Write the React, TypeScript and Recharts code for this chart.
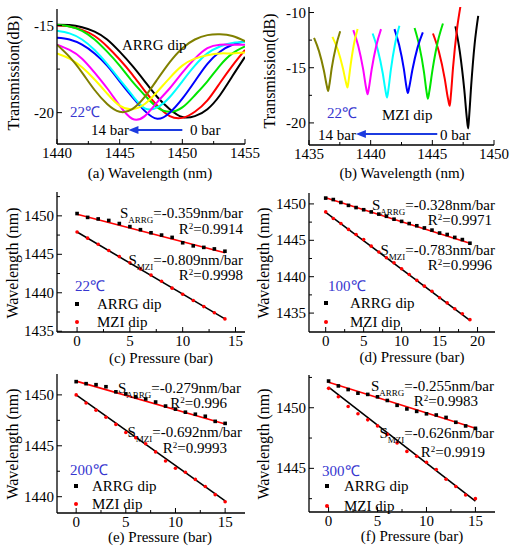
import React from "react";
import { ComposedChart, Line, LineChart, ReferenceLine, Scatter, XAxis, YAxis } from "recharts";

const FONT = "'Liberation Serif', 'Times New Roman', serif";
const TEMP_BLUE = "#3636cf";
const ARROW_BLUE = "#1c3be0";

// one colour per pressure step: 0, 2, 4 ... 14 bar
const barColors = ["#000000", "#ff0000", "#00e600", "#0000ff", "#00ffff", "#ff00ff", "#ffff00", "#808000"];

// ---------- (a) ARRG dip spectra ----------
const arrgWl = [1440, 1441, 1442, 1443, 1444, 1445, 1446, 1447, 1448, 1449, 1450, 1451, 1452, 1453, 1454, 1455];
const arrg0 = [-14.95, -14.97, -15.1, -15.35, -15.8, -16.5, -17.3, -18.2, -19.1, -19.8, -20.25, -20.2, -19.8, -19.0, -17.9, -16.8];
const arrg2 = [-15.0, -15.05, -15.25, -15.6, -16.2, -16.95, -17.8, -18.75, -19.6, -20.2, -20.3, -19.95, -19.3, -18.3, -17.3, -16.4];
const arrg4 = [-14.95, -15.05, -15.3, -15.8, -16.5, -17.3, -18.2, -19.0, -19.7, -19.95, -19.7, -19.0, -18.2, -17.3, -16.6, -16.2];
const arrg6 = [-15.7, -15.8, -16.1, -16.6, -17.3, -18.2, -19.1, -19.9, -20.35, -20.0, -19.2, -18.2, -17.2, -16.5, -16.1, -15.9];
const arrg8 = [-15.3, -15.45, -15.8, -16.4, -17.2, -18.1, -19.0, -19.75, -19.7, -19.1, -18.2, -17.3, -16.6, -16.2, -16.0, -15.95];
const arrg10 = [-16.1, -16.4, -16.9, -17.7, -18.6, -19.6, -20.35, -20.2, -19.4, -18.6, -17.7, -16.9, -16.3, -16.1, -16.1, -16.1];
const arrg12 = [-16.6, -16.9, -17.4, -18.1, -18.9, -19.6, -19.8, -19.5, -18.8, -18.0, -17.3, -16.9, -16.7, -16.6, -16.6, -16.55];
const arrg14 = [-16.1, -16.8, -17.7, -18.7, -19.5, -19.95, -19.8, -19.1, -18.1, -17.1, -16.3, -15.8, -15.55, -15.5, -15.6, -15.9];
const arrgCurves = [arrg0, arrg2, arrg4, arrg6, arrg8, arrg10, arrg12, arrg14];

// ---------- (b) MZI dip spectra ----------
const mziWl0 = [1446.87, 1447.23, 1447.59, 1447.8, 1447.9, 1447.98, 1448.15, 1448.43, 1448.72];
const mziDb0 = [-11.26, -13.57, -16.99, -19.58, -20.5, -19.48, -16.62, -12.85, -10.3];
const mziWl2 = [1445.05, 1445.53, 1446.0, 1446.27, 1446.41, 1446.5, 1446.68, 1446.99, 1447.3];
const mziDb2 = [-11.9, -13.54, -15.96, -17.8, -18.45, -17.54, -14.97, -11.59, -9.3];
const mziWl4 = [1443.56, 1443.94, 1444.32, 1444.53, 1444.64, 1444.76, 1445.01, 1445.43, 1445.86];
const mziDb4 = [-11.4, -13.0, -15.37, -17.16, -17.8, -17.12, -15.22, -12.7, -11.0];
const mziWl6 = [1441.93, 1442.31, 1442.69, 1442.9, 1443.01, 1443.13, 1443.38, 1443.8, 1444.23];
const mziDb6 = [-11.5, -12.95, -15.1, -16.72, -17.3, -16.75, -15.21, -13.18, -11.8];
const mziWl8 = [1440.16, 1440.57, 1440.98, 1441.21, 1441.33, 1441.43, 1441.63, 1441.98, 1442.33];
const mziDb8 = [-11.9, -13.35, -15.5, -17.12, -17.7, -17.05, -15.23, -12.83, -11.2];
const mziWl10 = [1438.59, 1439.0, 1439.4, 1439.63, 1439.75, 1439.86, 1440.08, 1440.46, 1440.84];
const mziDb10 = [-11.6, -13.05, -15.2, -16.82, -17.4, -16.81, -15.16, -12.98, -11.5];
const mziWl12 = [1436.9, 1437.33, 1437.75, 1438.0, 1438.12, 1438.2, 1438.37, 1438.65, 1438.94];
const mziDb12 = [-12.2, -13.35, -15.05, -16.34, -16.8, -16.27, -14.79, -12.83, -11.5];
const mziWl14 = [1435.41, 1435.81, 1436.21, 1436.44, 1436.55, 1436.65, 1436.84, 1437.19, 1437.53];
const mziDb14 = [-12.3, -13.5, -15.28, -16.62, -17.1, -16.56, -15.05, -13.05, -11.7];
const mziWls = [mziWl0, mziWl2, mziWl4, mziWl6, mziWl8, mziWl10, mziWl12, mziWl14];
const mziDbs = [mziDb0, mziDb2, mziDb4, mziDb6, mziDb8, mziDb10, mziDb12, mziDb14];

// ---------- (c)-(f) dip wavelength vs pressure ----------
const pressC = [0, 1, 2, 3, 4, 5, 6, 7, 8, 9, 10, 11, 12, 13, 14];
const arrgC = [1450.3, 1449.8, 1449.6, 1449.4, 1449.0, 1448.6, 1448.2, 1447.8, 1447.5, 1447.2, 1446.5, 1446.1, 1445.9, 1445.7, 1445.4];
const mziC = [1447.9, 1447.1, 1446.3, 1445.5, 1444.7, 1443.9, 1443.1, 1442.3, 1441.5, 1440.6, 1439.8, 1439.0, 1438.2, 1437.4, 1436.6];
const fitXC = [0, 14];
const fitArrgC = [1450.2, 1445.2];
const fitMziC = [1447.9, 1436.6];

const pressD = [0, 1, 2, 3, 4, 5, 6, 7, 8, 9, 10, 11, 12, 13, 14, 15, 16, 17, 18, 19];
const arrgD = [1450.8, 1450.6, 1450.2, 1449.8, 1449.5, 1449.2, 1448.9, 1448.6, 1448.3, 1447.9, 1447.6, 1447.3, 1447.0, 1446.7, 1446.4, 1446.0, 1445.8, 1445.4, 1445.1, 1444.6];
const mziD = [1448.9, 1448.0, 1447.3, 1446.5, 1445.8, 1445.1, 1444.2, 1443.4, 1442.6, 1441.9, 1441.1, 1440.3, 1439.5, 1438.7, 1438.0, 1437.1, 1436.4, 1435.6, 1434.9, 1434.1];
const fitXD = [0, 19];
const fitArrgD = [1450.85, 1444.6];
const fitMziD = [1448.85, 1434.0];

const pressE = [0, 1, 2, 3, 4, 5, 6, 7, 8, 9, 10, 11, 12, 13, 14, 15];
const arrgE = [1451.3, 1451.1, 1451.0, 1450.8, 1450.3, 1450.1, 1449.8, 1449.6, 1449.3, 1448.9, 1448.6, 1448.3, 1448.1, 1447.9, 1447.4, 1447.2];
const mziE = [1450.0, 1449.2, 1448.5, 1447.8, 1447.1, 1446.3, 1445.8, 1445.2, 1444.4, 1443.5, 1442.8, 1442.4, 1441.7, 1441.0, 1440.2, 1439.5];
const fitXE = [0, 15];
const fitArrgE = [1451.35, 1447.15];
const fitMziE = [1450.0, 1439.6];

const pressF = [0, 1, 2, 3, 4, 5, 6, 7, 8, 9, 10, 11, 12, 13, 14, 15];
const arrgF = [1452.2, 1451.8, 1451.5, 1451.2, 1451.1, 1450.9, 1450.6, 1450.2, 1449.9, 1449.7, 1449.5, 1449.4, 1449.2, 1448.8, 1448.5, 1448.3];
const mziF = [1451.6, 1450.9, 1450.1, 1449.5, 1449.0, 1448.5, 1447.8, 1447.1, 1446.4, 1446.0, 1445.5, 1444.9, 1444.1, 1443.5, 1442.8, 1442.5];
const fitXF = [0, 15];
const fitArrgF = [1452.1, 1448.3];
const fitMziF = [1451.7, 1442.3];

// ticks (minor ones are drawn without a label)
const wlTicksA = [1440, 1442.5, 1445, 1447.5, 1450, 1452.5, 1455];
const wlMajorA = [1440, 1445, 1450, 1455];
const dbTicksA = [-20, -17.5, -15];
const dbMajorA = [-20, -15];
const wlTicksB = [1435, 1437.5, 1440, 1442.5, 1445, 1447.5, 1450];
const wlMajorB = [1435, 1440, 1445, 1450];
const dbTicksB = [-20, -17.5, -15, -12.5, -10];
const dbMajorB = [-20, -15, -10];
const pTicks15 = [0, 2.5, 5, 7.5, 10, 12.5, 15];
const pMajor15 = [0, 5, 10, 15];
const pTicks20 = [0, 2.5, 5, 7.5, 10, 12.5, 15, 17.5, 20];
const pMajor20 = [0, 5, 10, 15, 20];
const lamTicksCD = [1435, 1437.5, 1440, 1442.5, 1445, 1447.5, 1450, 1452.5];
const lamMajorCD = [1435, 1440, 1445, 1450];
const lamTicksE = [1440, 1442.5, 1445, 1447.5, 1450];
const lamMajorE = [1440, 1445, 1450];
const lamTicksF = [1442.5, 1445, 1447.5, 1450, 1452.5];
const lamMajorF = [1445, 1450];

type Rect = { l: number; t: number; r: number; b: number };
const PAD = { l: 50, t: 6, r: 20, b: 26 };
const axisLine = { stroke: "#000", strokeWidth: 1.3 };

const xTick = (majors: number[]) => (p: any) => {
  const v = p.payload.value;
  const major = majors.includes(v);
  return (
    <g>
      <line x1={p.x} y1={p.y} x2={p.x} y2={p.y - (major ? 5 : 3)} stroke="#000" strokeWidth={1} />
      {major && (
        <text x={p.x} y={p.y + 13.5} textAnchor="middle" fontFamily={FONT} fontSize={15} fill="#000">
          {v}
        </text>
      )}
    </g>
  );
};

const yTick = (majors: number[]) => (p: any) => {
  const v = p.payload.value;
  const major = majors.includes(v);
  return (
    <g>
      <line x1={p.x} y1={p.y} x2={p.x + (major ? 5 : 3)} y2={p.y} stroke="#000" strokeWidth={1} />
      {major && (
        <text x={p.x - 3} y={p.y + 5} textAnchor="end" fontFamily={FONT} fontSize={15} fill="#000">
          {v}
        </text>
      )}
    </g>
  );
};

function frameAxes(xDomain: number[], xTicks: number[], xMajor: number[], yDomain: number[], yTicks: number[], yMajor: number[]) {
  return [
    <XAxis key="xb" dataKey="x" type="number" domain={xDomain} ticks={xTicks} interval={0} allowDataOverflow height={PAD.b}
      tickSize={0} tickMargin={0} tickLine={false} axisLine={axisLine} tick={xTick(xMajor)} />,
    <XAxis key="xt" xAxisId="top" orientation="top" type="number" domain={xDomain} allowDataOverflow height={0}
      tick={false} tickLine={false} axisLine={axisLine} />,
    <YAxis key="yl" type="number" domain={yDomain} ticks={yTicks} interval={0} allowDataOverflow width={PAD.l}
      tickSize={0} tickMargin={0} tickLine={false} axisLine={axisLine} tick={yTick(yMajor)} />,
    <YAxis key="yr" yAxisId="right" orientation="right" type="number" domain={yDomain} allowDataOverflow width={0}
      tick={false} tickLine={false} axisLine={axisLine} />,
  ];
}

const sizeOf = (box: Rect) => ({
  width: box.r - box.l + PAD.l + PAD.r,
  height: box.b - box.t + PAD.t + PAD.b,
});
const marginOf = { top: PAD.t, right: PAD.r, bottom: 0, left: 0 };

function Holder({ box, children }: { box: Rect; children: React.ReactNode }) {
  return <div style={{ position: "absolute", left: box.l - PAD.l, top: box.t - PAD.t }}>{children}</div>;
}

const arrowShape = (p: any) => {
  const { x1, y1, x2, y2 } = p;
  const dir = Math.sign(x2 - x1);
  return (
    <g>
      <line x1={x1} y1={y1} x2={x2 - dir * 6} y2={y2} stroke={ARROW_BLUE} strokeWidth={2} />
      <polygon points={`${x2},${y2} ${x2 - dir * 10},${y2 - 4} ${x2 - dir * 10},${y2 + 4}`} fill={ARROW_BLUE} />
    </g>
  );
};

const squareDot = (p: any) => <rect x={p.cx - 1.8} y={p.cy - 1.8} width={3.6} height={3.6} fill="#000" />;
const roundDot = (p: any) => <circle cx={p.cx} cy={p.cy} r={1.8} fill="#ff0000" />;

// ---------- text helpers ----------
function Txt({ x, y, children, color = "#000", size = 15, align = "left" }: any) {
  const tx = align === "right" ? "-100%" : align === "center" ? "-50%" : "0";
  return (
    <div style={{ position: "absolute", left: x, top: y, transform: `translate(${tx}, -50%)`, fontFamily: FONT,
      fontSize: size, lineHeight: 0.85, color, whiteSpace: "nowrap" }}>
      {children}
    </div>
  );
}
function VTxt({ x, y, children, size = 16 }: any) {
  return (
    <div style={{ position: "absolute", left: x, top: y, transform: "translate(-50%, -50%) rotate(-90deg)",
      fontFamily: FONT, fontSize: size, lineHeight: 1, color: "#000", whiteSpace: "nowrap" }}>
      {children}
    </div>
  );
}
const Sub = ({ children }: any) => <span style={{ fontSize: 9, position: "relative", top: 5 }}>{children}</span>;
const Sup = ({ children }: any) => <span style={{ fontSize: 9, position: "relative", top: -5 }}>{children}</span>;

// ---------- panels ----------
const boxA: Rect = { l: 57, t: 9, r: 245, b: 144 };
const boxB: Rect = { l: 309, t: 7, r: 494, b: 145 };
const boxC: Rect = { l: 57, t: 192, r: 245, b: 332 };
const boxD: Rect = { l: 309, t: 193, r: 495, b: 332 };
const boxE: Rect = { l: 57, t: 374, r: 245, b: 513 };
const boxF: Rect = { l: 309, t: 375, r: 495, b: 512 };

function PanelA() {
  const rows = arrgWl.map((x, i) => {
    const row: Record<string, number> = { x };
    arrgCurves.forEach((c, k) => (row["p" + k] = c[i]));
    return row;
  });
  return (
    <Holder box={boxA}>
      <LineChart {...sizeOf(boxA)} data={rows} margin={marginOf}>
        {frameAxes([1440, 1455], wlTicksA, wlMajorA, [-21.8, -14.05], dbTicksA, dbMajorA)}
        {arrgCurves.map((_, k) => (
          <Line key={k} type="natural" dataKey={"p" + k} stroke={barColors[k]} strokeWidth={2} dot={false}
            isAnimationActive={false} />
        ))}
        <ReferenceLine segment={[{ x: 1450, y: -21 }, { x: 1445.7, y: -21 }]} shape={arrowShape} />
      </LineChart>
    </Holder>
  );
}

function PanelB() {
  return (
    <Holder box={boxB}>
      <LineChart {...sizeOf(boxB)} margin={marginOf}>
        {frameAxes([1435, 1450], wlTicksB, wlMajorB, [-22, -9.5], dbTicksB, dbMajorB)}
        {mziWls.map((wl, k) => (
          <Line key={k} data={wl.map((x, i) => ({ x, y: mziDbs[k][i] }))} type="monotone" dataKey="y"
            stroke={barColors[k]} strokeWidth={2} dot={false} isAnimationActive={false} />
        ))}
        <ReferenceLine segment={[{ x: 1445.4, y: -21 }, { x: 1438.8, y: -21 }]} shape={arrowShape} />
      </LineChart>
    </Holder>
  );
}

function FitPanel(props: any) {
  const { box, xDomain, xTicks, xMajor, yDomain, yTicks, yMajor, press, arrg, mzi, fitX, fitArrg, fitMzi } = props;
  const arrgPts = press.map((x: number, i: number) => ({ x, y: arrg[i] }));
  const mziPts = press.map((x: number, i: number) => ({ x, y: mzi[i] }));
  const fitA = fitX.map((x: number, i: number) => ({ x, y: fitArrg[i] }));
  const fitM = fitX.map((x: number, i: number) => ({ x, y: fitMzi[i] }));
  return (
    <Holder box={box}>
      <ComposedChart {...sizeOf(box)} margin={marginOf}>
        {frameAxes(xDomain, xTicks, xMajor, yDomain, yTicks, yMajor)}
        <Line data={fitA} dataKey="y" type="linear" stroke="#ff0000" strokeWidth={1.6} dot={false} isAnimationActive={false} />
        <Line data={fitM} dataKey="y" type="linear" stroke="#000" strokeWidth={1.6} dot={false} isAnimationActive={false} />
        <Scatter data={arrgPts} dataKey="y" shape={squareDot} isAnimationActive={false} />
        <Scatter data={mziPts} dataKey="y" shape={roundDot} isAnimationActive={false} />
      </ComposedChart>
    </Holder>
  );
}

function Notes({ s1, r1, s2, r2, v }: any) {
  return (
    <>
      <Txt x={s1[0]} y={s1[1]} align="right">S<Sub>ARRG</Sub>={v[0]}nm/bar</Txt>
      <Txt x={r1[0]} y={r1[1]} align="right">R<Sup>2</Sup>={v[1]}</Txt>
      <Txt x={s2[0]} y={s2[1]} align="right">S<Sub>MZI</Sub>={v[2]}nm/bar</Txt>
      <Txt x={r2[0]} y={r2[1]} align="right">R<Sup>2</Sup>={v[3]}</Txt>
    </>
  );
}

function Key({ x, y1, y2, tx, temp, ty }: any) {
  return (
    <>
      <Txt x={tx - 22} y={ty} color={TEMP_BLUE}>{temp}</Txt>
      <div style={{ position: "absolute", left: x - 1.8, top: y1 - 1.8, width: 3.6, height: 3.6, background: "#000" }} />
      <Txt x={tx} y={y1}>ARRG dip</Txt>
      <div style={{ position: "absolute", left: x - 1.8, top: y2 - 1.8, width: 3.6, height: 3.6, borderRadius: 2, background: "#ff0000" }} />
      <Txt x={tx} y={y2}>MZI dip</Txt>
    </>
  );
}

export default function App() {
  return (
    <div style={{ position: "absolute", left: 0, top: 0, width: 513, height: 550, background: "#fff", overflow: "hidden" }}>
      <PanelA />
      <PanelB />
      <FitPanel box={boxC} xDomain={[-1.9, 15.9]} xTicks={pTicks15} xMajor={pMajor15} yDomain={[1434.9, 1453.1]}
        yTicks={lamTicksCD} yMajor={lamMajorCD} press={pressC} arrg={arrgC} mzi={mziC} fitX={fitXC} fitArrg={fitArrgC} fitMzi={fitMziC} />
      <FitPanel box={boxD} xDomain={[-2.2, 22.3]} xTicks={pTicks20} xMajor={pMajor20} yDomain={[1432.4, 1451.5]}
        yTicks={lamTicksCD} yMajor={lamMajorCD} press={pressD} arrg={arrgD} mzi={mziD} fitX={fitXD} fitArrg={fitArrgD} fitMzi={fitMziD} />
      <FitPanel box={boxE} xDomain={[-1.93, 17.0]} xTicks={pTicks15} xMajor={pMajor15} yDomain={[1438.4, 1452.05]}
        yTicks={lamTicksE} yMajor={lamMajorE} press={pressE} arrg={arrgE} mzi={mziE} fitX={fitXE} fitArrg={fitArrgE} fitMzi={fitMziE} />
      <FitPanel box={boxF} xDomain={[-2.0, 17.0]} xTicks={pTicks15} xMajor={pMajor15} yDomain={[1441.4, 1452.7]}
        yTicks={lamTicksF} yMajor={lamMajorF} press={pressF} arrg={arrgF} mzi={mziF} fitX={fitXF} fitArrg={fitArrgF} fitMzi={fitMziF} />

      {/* (a) */}
      <VTxt x={14} y={73}>Transmission(dB)</VTxt>
      <Txt x={150} y={173} align="center">(a) Wavelength (nm)</Txt>
      <Txt x={122} y={45}>ARRG dip</Txt>
      <Txt x={70} y={112} color={TEMP_BLUE}>22℃</Txt>
      <Txt x={91} y={130}>14 bar</Txt>
      <Txt x={190} y={130}>0 bar</Txt>

      {/* (b) */}
      <VTxt x={270} y={71}>Transmission(dB)</VTxt>
      <Txt x={402} y={173} align="center">(b) Wavelength (nm)</Txt>
      <Txt x={327} y={113} color={TEMP_BLUE}>22℃</Txt>
      <Txt x={382} y={115}>MZI dip</Txt>
      <Txt x={318} y={135}>14 bar</Txt>
      <Txt x={440} y={135}>0 bar</Txt>

      {/* (c) */}
      <VTxt x={12.5} y={263}>Wavelength (nm)</VTxt>
      <Txt x={161} y={358} align="center">(c) Pressure (bar)</Txt>
      <Notes s1={[243, 212.5]} r1={[243, 228.5]} s2={[243, 260]} r2={[243, 274.5]} v={["-0.359", "0.9914", "-0.809", "0.9998"]} />
      <Key x={77} y1={304} y2={322} tx={97} temp="22℃" ty={286} />

      {/* (d) */}
      <VTxt x={264} y={263}>Wavelength (nm)</VTxt>
      <Txt x={412} y={357} align="center">(d) Pressure (bar)</Txt>
      <Notes s1={[495, 204.5]} r1={[492, 220]} s2={[495, 249.5]} r2={[492, 264.5]} v={["-0.328", "0.9971", "-0.783", "0.9996"]} />
      <Key x={326} y1={303} y2={322} tx={350} temp="100℃" ty={286} />

      {/* (e) */}
      <VTxt x={12.5} y={444}>Wavelength (nm)</VTxt>
      <Txt x={160} y={537} align="center">(e) Pressure (bar)</Txt>
      <Notes s1={[241, 387.5]} r1={[227, 402.5]} s2={[242, 431.5]} r2={[227, 448]} v={["-0.279", "0.996", "-0.692", "0.9993"]} />
      <Key x={76} y1={486} y2={504} tx={92} temp="200℃" ty={470} />

      {/* (f) */}
      <VTxt x={264} y={444}>Wavelength (nm)</VTxt>
      <Txt x={412} y={536} align="center">(f) Pressure (bar)</Txt>
      <Notes s1={[494, 385.5]} r1={[478, 400.5]} s2={[494, 433]} r2={[485, 452]} v={["-0.255", "0.9983", "-0.626", "0.9919"]} />
      <Key x={327} y1={486} y2={506} tx={344} temp="300℃" ty={471} />
    </div>
  );
}
